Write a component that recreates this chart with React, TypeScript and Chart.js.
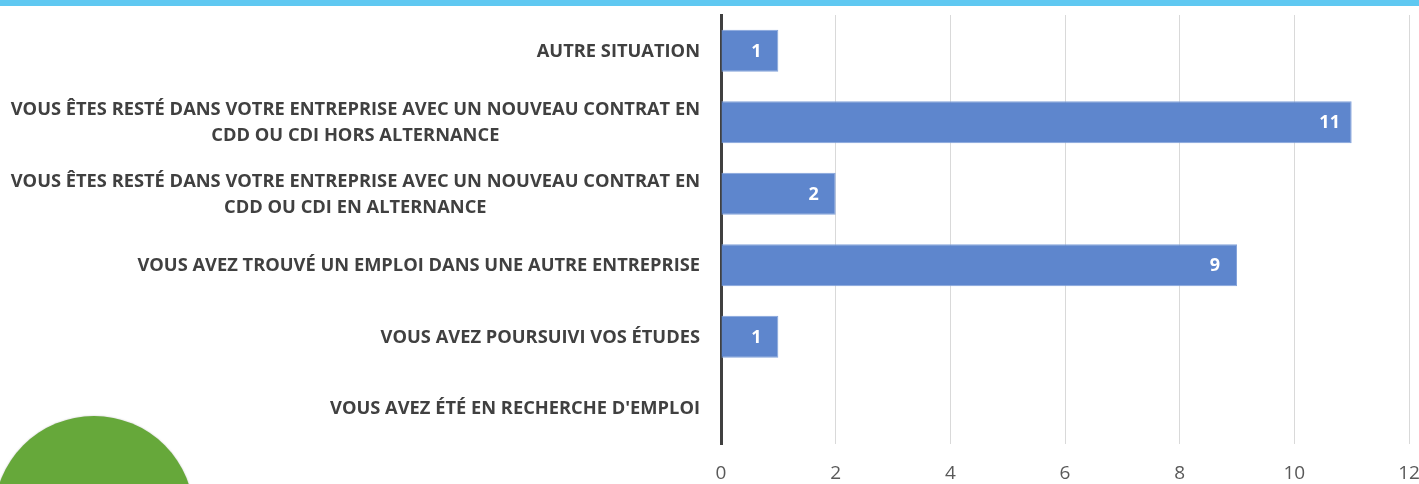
import React, { useEffect, useRef } from "react";
import { Chart, registerables } from "chart.js";

Chart.register(...registerables);

const categories: string[][] = [
  ["AUTRE SITUATION"],
  ["VOUS ÊTES RESTÉ DANS VOTRE ENTREPRISE AVEC UN NOUVEAU CONTRAT EN", "CDD OU CDI HORS ALTERNANCE"],
  ["VOUS ÊTES RESTÉ DANS VOTRE ENTREPRISE AVEC UN NOUVEAU CONTRAT EN", "CDD OU CDI EN ALTERNANCE"],
  ["VOUS AVEZ TROUVÉ UN EMPLOI DANS UNE AUTRE ENTREPRISE"],
  ["VOUS AVEZ POURSUIVI VOS ÉTUDES"],
  ["VOUS AVEZ ÉTÉ EN RECHERCHE D'EMPLOI"],
];
const values: number[] = [1, 11, 2, 9, 1, 0];
const xTicks: number[] = [0, 2, 4, 6, 8, 10, 12];

const LABEL_FONT = "bold 18.3px 'Open Sans'";
const LABEL_RIGHT = 700;
const LINE_H = 26;

const categoryLabelsPlugin = {
  id: "categoryLabels",
  afterDraw(chart: any) {
    const ctx = chart.ctx;
    const yScale = chart.scales.y;
    ctx.save();
    ctx.font = LABEL_FONT;
    ctx.fillStyle = "#404040";
    ctx.textAlign = "center";
    ctx.textBaseline = "middle";
    categories.forEach((lines, i) => {
      const cy = yScale.getPixelForValue(i) + 1;
      const w = Math.max(...lines.map((l) => ctx.measureText(l).width));
      const cx = LABEL_RIGHT - w / 2;
      const start = cy - ((lines.length - 1) * LINE_H) / 2;
      lines.forEach((l, j) => ctx.fillText(l, cx, start + j * LINE_H));
    });
    ctx.restore();
  },
};

const valueLabelsPlugin = {
  id: "valueLabels",
  afterDatasetsDraw(chart: any) {
    const ctx = chart.ctx;
    const meta = chart.getDatasetMeta(0);
    ctx.save();
    ctx.font = "bold 18px 'Open Sans'";
    ctx.fillStyle = "#FFFFFF";
    ctx.textAlign = "center";
    ctx.textBaseline = "middle";
    meta.data.forEach((bar: any, i: number) => {
      const v = values[i];
      if (!v) return;
      ctx.fillText(String(v), bar.x - 22, bar.y + 1);
    });
    ctx.restore();
  },
};

export default function App() {
  const ref = useRef<HTMLCanvasElement | null>(null);
  useEffect(() => {
    if (!ref.current) return;
    const chart = new Chart(ref.current, {
      type: "bar",
      data: {
        labels: categories.map((c) => c.join(" ")),
        datasets: [
          {
            data: values,
            backgroundColor: "#5E86CD",
            borderColor: "#84A3DA",
            borderWidth: 1,
            barPercentage: 0.59,
            categoryPercentage: 1,
          },
        ],
      },
      options: {
        indexAxis: "y",
        responsive: false,
        animation: false,
        layout: { padding: { top: 15, right: 10, left: 0, bottom: 0 } },
        plugins: { legend: { display: false }, tooltip: { enabled: false } },
        scales: {
          x: {
            min: 0,
            max: 12,
            afterBuildTicks: (s: any) => {
              s.ticks = xTicks.map((v) => ({ value: v }));
            },
            ticks: {
              font: { family: "'Open Sans'", size: 19 },
              color: "#595959",
              padding: 18,
              maxRotation: 0,
            },
            grid: { color: "#D9D9D9", drawTicks: false, lineWidth: 1 },
            border: { display: false },
            afterFit: (s: any) => {
              s.height = 40;
              s.paddingLeft = 0;
              s.paddingRight = 0;
            },
          },
          y: {
            ticks: { display: false },
            grid: { display: false },
            border: { display: true, color: "#404040", width: 3 },
            afterFit: (s: any) => {
              s.width = 721;
            },
          },
        },
      },
      plugins: [categoryLabelsPlugin, valueLabelsPlugin],
    } as any);
    return () => chart.destroy();
  }, []);

  return (
    <div style={{ position: "fixed", left: 0, top: 0, width: 1419, height: 484, overflow: "hidden", background: "#fff" }}>
      <canvas ref={ref} width={1419} height={484} style={{ position: "absolute", left: 0, top: 0 }} />
      <div style={{ position: "absolute", left: 0, top: 0, width: 1419, height: 6, background: "#5FC8F1" }} />
      <div
        style={{
          position: "absolute",
          left: -6,
          top: 416,
          width: 200,
          height: 200,
          borderRadius: "50%",
          background: "#66A83A",
          boxShadow: "0 0 2px rgba(0,0,0,0.25)",
        }}
      />
    </div>
  );
}
